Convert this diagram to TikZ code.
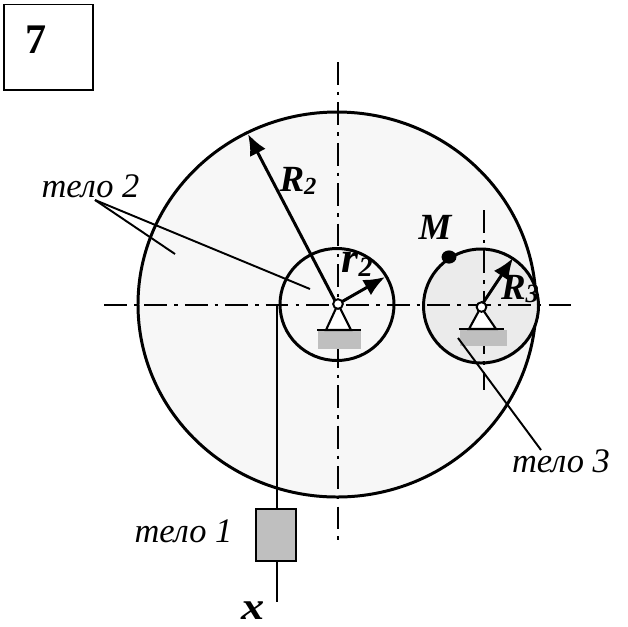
\documentclass[tikz,border=0pt]{standalone}
\usepackage{fontspec}
\setmainfont{Liberation Serif}
\usetikzlibrary{arrows.meta,patterns,shapes.geometric}
\tikzset{
	axisline/.style = {line width = 1.1pt, dash pattern = on 13pt off 4pt on 2pt off 4pt},
	bodyline/.style = {line width = 1.7pt},
	supportline/.style = {line width = 1.2pt},
	radiusline/.style = {line width = 1.7pt, -{Latex[length = 12pt, width = 10pt]}},
	leaderline/.style = {line width = 1.1pt},
	bodylabel/.style = {font = \itshape\fontsize{19.6}{21}\selectfont, inner sep = 0pt},
	symlabel/.style = {font = \bfseries\itshape\fontsize{21}{24}\selectfont, inner sep = 0pt},
	pivotball/.style = {circle, draw, fill = white, line width = 1.1pt, minimum size = 5.5pt, inner sep = 0pt},
	hatchbase/.style = {draw = none, pattern = north east lines, pattern color = black!45, fill = black!25}
}
\begin{document}
\begin{tikzpicture}[x = 0.02cm, y = -0.02cm]
	\useasboundingbox (0,0) rectangle (628,626);
	\fill[white] (0,0) rectangle (628,626);
	% number box
	\node[draw, line width = 1.1pt, minimum width = 1.78cm, minimum height = 1.72cm, anchor = north west, inner sep = 0pt] (numbox) at (3,3.5) {};
	\node[font = \bfseries\fontsize{24}{26}\selectfont, inner sep = 0pt] (numlabel) at (36,40) {7};
	% bodies
	\coordinate (ctwo) at (337,304.5);
	\coordinate (cthree) at (481,306);
	\draw[bodyline, fill = black!3] (ctwo) ellipse (199 and 192.5);
	\draw[bodyline] (ctwo) ellipse (57 and 56);
	\draw[bodyline, fill = black!8] (cthree) ellipse (57.5 and 57);
	% axes
	\coordinate (ah1) at (104,305);
	\coordinate (ah2) at (572,305);
	\coordinate (av1) at (338,62);
	\coordinate (av2) at (338,546);
	\coordinate (bv1) at (484,210);
	\coordinate (bv2) at (484,390);
	\draw[axisline] (ah1) -- (ah2);
	\draw[axisline] (av1) -- (av2);
	\draw[axisline] (bv1) -- (bv2);
	% supports
	\fill[hatchbase] (318,331) rectangle (361,349);
	\fill[hatchbase] (460,330) rectangle (507,346);
	\draw[supportline, fill = white] (338,304) -- (326,330) -- (351,330) -- cycle;
	\draw[supportline, fill = white] (481,307) -- (469,329) -- (496,329) -- cycle;
	\draw[supportline] (317,330) -- (361,330);
	\draw[supportline] (459,329) -- (504,329);
	% radii
	\coordinate (rtwoend) at (248,134);
	\coordinate (smallend) at (385,277);
	\coordinate (rthreeend) at (513,258);
	\draw[radiusline] (ctwo) -- (rtwoend);
	\draw[radiusline] (ctwo) -- (smallend);
	\draw[radiusline] (cthree) -- (rthreeend);
	\node[pivotball] (pivottwo) at (338,304) {};
	\node[pivotball] (pivotthree) at (481.5,307) {};
	\node[symlabel] (rtwo) at (298,181) {R\raisebox{-2pt}{\fontsize{14}{16}\selectfont 2}};
	\node[symlabel, font = \bfseries\itshape\fontsize{25}{26}\selectfont] (rsmall) at (357,264) {r\raisebox{-2pt}{\fontsize{16}{16}\selectfont 2}};
	\node[symlabel] (rthree) at (520,289) {R\raisebox{-2pt}{\fontsize{15}{16}\selectfont 3}};
	% point M
	\node[ellipse, fill, minimum width = 8.5pt, minimum height = 7.5pt, inner sep = 0pt] (pointm) at (449,257) {};
	\node[symlabel] (mlabel) at (435,227) {M};
	% load on the cable
	\node[draw, line width = 1.1pt, fill = black!25, minimum width = 0.8cm, minimum height = 1.04cm, inner sep = 0pt] (load) at (276,535) {};
	\coordinate (ctop) at (277,305);
	\coordinate (cend) at (277,602);
	\draw[bodyline] (ctop) -- (load.north -| ctop);
	\draw[bodyline] (load.south -| ctop) -- (cend);
	\node[font = \bfseries\itshape\fontsize{22}{24}\selectfont, inner sep = 0pt, xscale = 1.2] (xlabel) at (253.5,611) {x};
	% labels and leaders
	\node[bodylabel] (bodytwo) at (90.5,186) {тело 2};
	\node[bodylabel] (bodyone) at (183.5,531) {тело 1};
	\node[bodylabel] (bodythree) at (561,461) {тело 3};
	\coordinate (lfork) at (95,200);
	\coordinate (lone) at (175,254);
	\coordinate (ltwo) at (310,289);
	\coordinate (lthree) at (458,338);
	\coordinate (lfour) at (541,450);
	\draw[leaderline] (lfork) -- (lone);
	\draw[leaderline] (lfork) -- (ltwo);
	\draw[leaderline] (lthree) -- (lfour);
\end{tikzpicture}
\end{document}
